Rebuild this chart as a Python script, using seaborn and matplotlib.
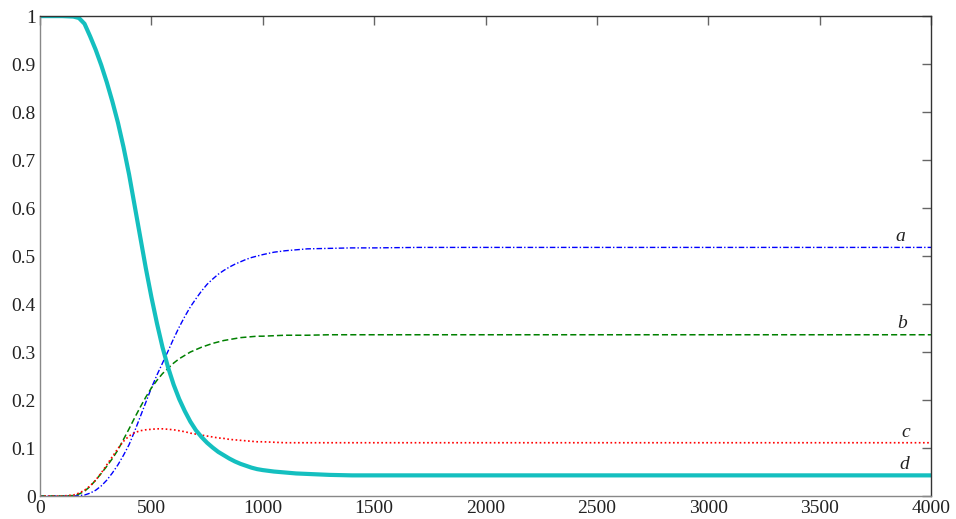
import numpy as np
import pandas as pd
import matplotlib
matplotlib.use("Agg")
import matplotlib.pyplot as plt
import seaborn as sns

# values
x = [0, 50, 100, 150, 175, 200, 225, 250, 275, 300, 325, 350, 375, 400, 425,
     450, 475, 500, 525, 550, 575, 600, 625, 650, 675, 700, 725, 750, 775,
     800, 825, 850, 875, 900, 925, 950, 975, 1000, 1050, 1100, 1150, 1200,
     1300, 1400, 1500, 1700, 2000, 2500, 3000, 3500, 4000]
a = [0, 0, 0, 0, 0.001, 0.002, 0.006, 0.012, 0.021, 0.033, 0.048, 0.065,
     0.085, 0.107, 0.135, 0.165, 0.195, 0.225, 0.252, 0.277, 0.302, 0.328,
     0.352, 0.374, 0.394, 0.411, 0.427, 0.441, 0.452, 0.462, 0.47, 0.477,
     0.483, 0.488, 0.493, 0.497, 0.5, 0.503, 0.508, 0.511, 0.513, 0.515,
     0.516, 0.517, 0.517, 0.518, 0.518, 0.518, 0.518, 0.518, 0.518]
b = [0, 0, 0, 0.001, 0.004, 0.01, 0.02, 0.033, 0.047, 0.062, 0.078, 0.096,
     0.118, 0.14, 0.163, 0.185, 0.206, 0.225, 0.241, 0.255, 0.266, 0.277,
     0.286, 0.293, 0.3, 0.305, 0.31, 0.314, 0.318, 0.321, 0.324, 0.326,
     0.328, 0.33, 0.331, 0.332, 0.333, 0.333, 0.334, 0.335, 0.335, 0.335,
     0.336, 0.336, 0.336, 0.336, 0.336, 0.336, 0.336, 0.336, 0.336]
c = [0, 0, 0, 0.002, 0.006, 0.012, 0.021, 0.033, 0.048, 0.065, 0.082, 0.099,
     0.114, 0.125, 0.132, 0.136, 0.138, 0.139, 0.14, 0.14, 0.139, 0.138,
     0.136, 0.134, 0.131, 0.129, 0.127, 0.125, 0.123, 0.121, 0.12, 0.118,
     0.117, 0.116, 0.115, 0.114, 0.113, 0.113, 0.112, 0.111, 0.111, 0.111,
     0.111, 0.111, 0.111, 0.111, 0.111, 0.111, 0.111, 0.111, 0.111]
d = [1, 1, 1, 0.999, 0.996, 0.984, 0.958, 0.93, 0.898, 0.862, 0.822, 0.778,
     0.727, 0.67, 0.605, 0.54, 0.475, 0.415, 0.36, 0.31, 0.268, 0.232, 0.202,
     0.177, 0.155, 0.137, 0.123, 0.111, 0.101, 0.092, 0.085, 0.078, 0.072,
     0.067, 0.063, 0.059, 0.056, 0.054, 0.051, 0.049, 0.047, 0.046, 0.044,
     0.043, 0.043, 0.043, 0.043, 0.043, 0.043, 0.043, 0.043]
labels = ["a", "b", "c", "d"]
label_pos = [(3860, 0.54), (3870, 0.36), (3885, 0.133), (3880, 0.066)]

df = pd.DataFrame({"x": x, "a": a, "b": b, "c": c, "d": d})

sns.set_theme(style="white")
plt.rcParams["font.family"] = ["Liberation Serif", "DejaVu Serif"]

fig, ax = plt.subplots(figsize=(9.56, 5.19), dpi=100)
fig.subplots_adjust(left=0.0418, right=0.974, bottom=0.0443, top=0.969)

sns.lineplot(df, x="x", y="a", ax=ax, color="#0000ff", lw=1.0,
             linestyle=(0, (4, 1.5, 1, 1.5)))
sns.lineplot(df, x="x", y="b", ax=ax, color="#008000", lw=1.1,
             linestyle=(0, (4, 2)))
sns.lineplot(df, x="x", y="c", ax=ax, color="#ff0000", lw=1.2,
             linestyle=(0, (1, 1.5)))
sns.lineplot(df, x="x", y="d", ax=ax, color="#14bfbf", lw=3.0)

for lab, (lx, ly) in zip(labels, label_pos):
    ax.text(lx, ly, lab, fontsize=14, fontstyle="italic", ha="center",
            va="center", color="#222222")

ax.set_xlim(0, 4000)
ax.set_ylim(0, 1)
ax.set_xticks(np.arange(0, 4001, 500))
ax.set_yticks(np.arange(0, 1.01, 0.1))
ax.set_yticklabels(["0"] + [f"{v:.1f}" for v in np.arange(0.1, 0.95, 0.1)] + ["1"])
ax.set(xlabel="", ylabel="")
ax.tick_params(direction="in", length=6.5, width=1, color="#666666",
               labelsize=14, labelcolor="#222222", top=True, right=True,
               pad=3)
for side, s in ax.spines.items():
    s.set_color("#333333" if side in ("top", "right") else "#888888")
    s.set_linewidth(1.0)

fig.savefig("out.png", dpi=100)
